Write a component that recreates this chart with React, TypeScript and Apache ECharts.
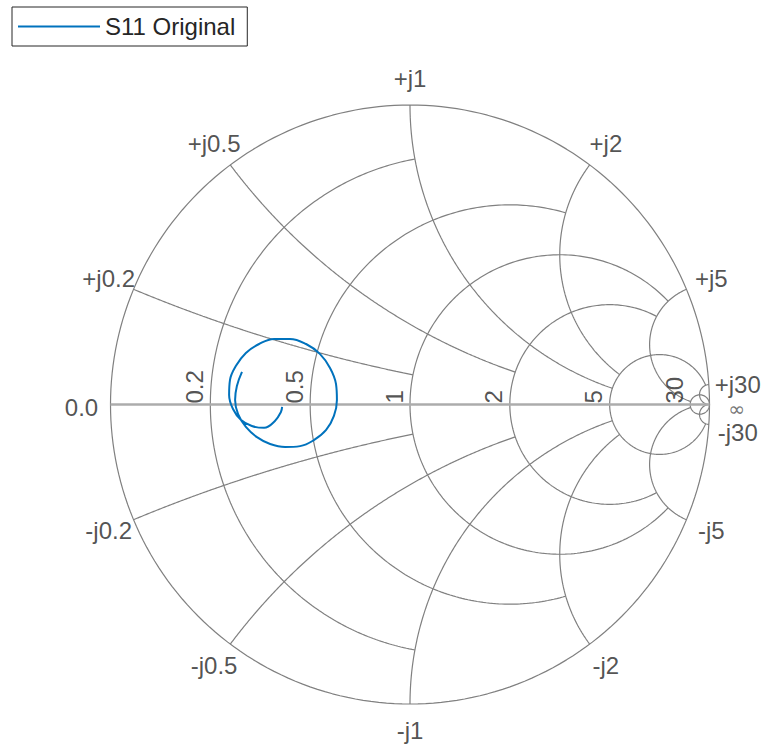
import React, { useEffect, useRef } from "react";
import * as echarts from "echarts";

// Smith chart grid: values (first row) and the value each is clipped at (second row)
const gridValues: number[] = [30, 5, 2, 1, 0.5, 0.2];
const gridClipValues: number[] = [Infinity, 30, 5, 5, 2, 1];

// Tick labels
const resistanceTickLabels: string[] = ["30", "5", "2", "1", "0.5", "0.2"];
const reactancePosLabels: string[] = ["+j30", "+j5", "+j2", "+j1", "+j0.5", "+j0.2"];
const reactanceNegLabels: string[] = ["-j30", "-j5", "-j2", "-j1", "-j0.5", "-j0.2"];
const zeroLabel = "0.0";
const infLabel = "\u221E";

// Measured reflection coefficient S11 (real / imaginary parts)
const seriesName = "S11 Original";
const s11Real: number[] = [
  -0.561, -0.578, -0.584, -0.574, -0.548, -0.511, -0.467, -0.417, -0.367, -0.321,
  -0.28, -0.254, -0.244, -0.247, -0.267, -0.301, -0.347, -0.401, -0.454, -0.504,
  -0.548, -0.581, -0.601, -0.604, -0.591, -0.564, -0.528, -0.487, -0.451, -0.431, -0.427,
];
const s11Imag: number[] = [
  0.109, 0.062, 0.015, -0.032, -0.075, -0.109, -0.132, -0.142, -0.139, -0.119,
  -0.085, -0.038, 0.015, 0.068, 0.122, 0.169, 0.202, 0.219, 0.219, 0.202,
  0.172, 0.129, 0.082, 0.032, -0.015, -0.052, -0.072, -0.078, -0.055, -0.025, -0.008,
];

const FONT = "'Liberation Sans', Arial, Helvetica, sans-serif";
const FONT_SIZE = 24;
const TEXT_COLOR = "#262626";
const GRID_LINE = { color: "#808080", width: 1.2 };
const N = 240;

function gamma(r: number, x: number): [number, number] {
  const den = (r + 1) * (r + 1) + x * x;
  return [(r * r - 1 + x * x) / den, (2 * x) / den];
}

function resistanceArc(r: number, clip: number): number[][] {
  const cx = r / (1 + r);
  const rad = 1 / (1 + r);
  let a0 = 0;
  let a1 = 2 * Math.PI;
  if (isFinite(clip)) {
    const g = gamma(r, clip);
    a0 = Math.atan2(g[1], g[0] - cx);
    a1 = 2 * Math.PI - a0;
  }
  const pts: number[][] = [];
  for (let i = 0; i <= N; i++) {
    const a = a0 + ((a1 - a0) * i) / N;
    pts.push([cx + rad * Math.cos(a), rad * Math.sin(a)]);
  }
  return pts;
}

function reactanceArc(x: number, clip: number, sign: number): number[][] {
  const cy = 1 / x;
  const rad = 1 / x;
  const g0 = gamma(0, x);
  const g1 = isFinite(clip) ? gamma(clip, x) : [1, 0];
  const norm = (a: number) => (a < 0 ? a + 2 * Math.PI : a);
  const a0 = norm(Math.atan2(g0[1] - cy, g0[0] - 1));
  const a1 = norm(Math.atan2(g1[1] - cy, g1[0] - 1));
  const pts: number[][] = [];
  for (let i = 0; i <= N; i++) {
    const a = a0 + ((a1 - a0) * i) / N;
    pts.push([1 + rad * Math.cos(a), sign * (cy + rad * Math.sin(a))]);
  }
  return pts;
}

function buildOption(): any {
  const series: any[] = [];
  const gridSeries = (data: number[][], style = GRID_LINE, z = 1) => ({
    type: "line",
    data,
    symbol: "none",
    silent: true,
    clip: false,
    lineStyle: style,
    z,
    emphasis: { disabled: true },
  });

  // outer circle (r = 0)
  series.push(gridSeries(resistanceArc(0, Infinity)));
  gridValues.forEach((v, i) => {
    const c = gridClipValues[i];
    series.push(gridSeries(resistanceArc(v, c)));
    series.push(gridSeries(reactanceArc(v, c, 1)));
    series.push(gridSeries(reactanceArc(v, c, -1)));
  });
  // real axis
  series.push(gridSeries([[-1, 0], [1, 0]], { color: "#acacac", width: 2.5 }, 2));

  // resistance tick labels along the real axis
  series.push({
    type: "scatter",
    symbolSize: 0,
    silent: true,
    clip: false,
    z: 5,
    itemStyle: { color: "transparent" },
    data: gridValues.map((v, i) => ({
      value: [(v - 1) / (v + 1), 0],
      name: resistanceTickLabels[i],
    })),
    label: {
      show: true,
      formatter: "{b}",
      rotate: 90,
      position: [-4, -1],
      align: "left",
      verticalAlign: "bottom",
      fontSize: FONT_SIZE,
      color: TEXT_COLOR,
      fontFamily: FONT,
    },
  });

  // reactance labels around the rim
  const rimData: any[] = [];
  const k = 1.09;
  gridValues.forEach((v, i) => {
    const g = gamma(0, v);
    const nearInf = v >= 30;
    rimData.push({
      value: [k * g[0], k * g[1]],
      name: reactancePosLabels[i],
      label: nearInf ? { offset: [2, 2], lineHeight: 20 } : undefined,
    });
    rimData.push({
      value: [k * g[0], -k * g[1]],
      name: reactanceNegLabels[i],
      label: nearInf ? { offset: [2, 6], lineHeight: 20 } : undefined,
    });
  });
  rimData.push({ value: [-k, 0], name: zeroLabel, label: { offset: [-2, 3] } });
  rimData.push({
    value: [k, 0],
    name: infLabel,
    label: {
      offset: [0, 4],
      lineHeight: 12,
      fontSize: 20,
      fontFamily: "'DejaVu Sans', sans-serif",
      color: "#555555",
    },
  });
  series.push({
    type: "scatter",
    symbolSize: 0,
    silent: true,
    clip: false,
    z: 5,
    itemStyle: { color: "transparent" },
    data: rimData,
    label: {
      show: true,
      formatter: "{b}",
      position: "inside",
      fontSize: FONT_SIZE,
      color: TEXT_COLOR,
      fontFamily: FONT,
    },
  });

  // S11 trace
  series.push({
    type: "line",
    name: seriesName,
    data: s11Real.map((re, i) => [re, s11Imag[i]]),
    symbol: "none",
    smooth: 0.4,
    clip: false,
    lineStyle: { color: "#0072BD", width: 2 },
    itemStyle: { color: "#0072BD" },
    z: 10,
    emphasis: { disabled: true },
  });

  return {
    animation: false,
    backgroundColor: "#ffffff",
    grid: { left: 110.5, top: 105, width: 599, height: 599 },
    xAxis: { type: "value", min: -1, max: 1, show: false },
    yAxis: { type: "value", min: -1, max: 1, show: false },
    legend: {
      data: [{ name: seriesName, icon: "rect" }],
      left: 12,
      top: 7,
      orient: "horizontal",
      borderColor: TEXT_COLOR,
      borderWidth: 1,
      padding: [6, 12, 6, 6],
      itemWidth: 82,
      itemHeight: 2,
      itemStyle: { color: "#0072BD" },
      textStyle: { fontSize: FONT_SIZE, color: TEXT_COLOR, fontFamily: FONT, lineHeight: 27 },
      selectedMode: false,
    },
    series,
  };
}

export default function App() {
  const ref = useRef<HTMLDivElement>(null);
  useEffect(() => {
    if (!ref.current) return;
    const chart = echarts.init(ref.current, undefined, { renderer: "svg" });
    chart.setOption(buildOption());
    return () => chart.dispose();
  }, []);
  return (
    <div
      ref={ref}
      style={{ position: "fixed", left: 0, top: 0, width: 764, height: 754, background: "#fff" }}
    />
  );
}
